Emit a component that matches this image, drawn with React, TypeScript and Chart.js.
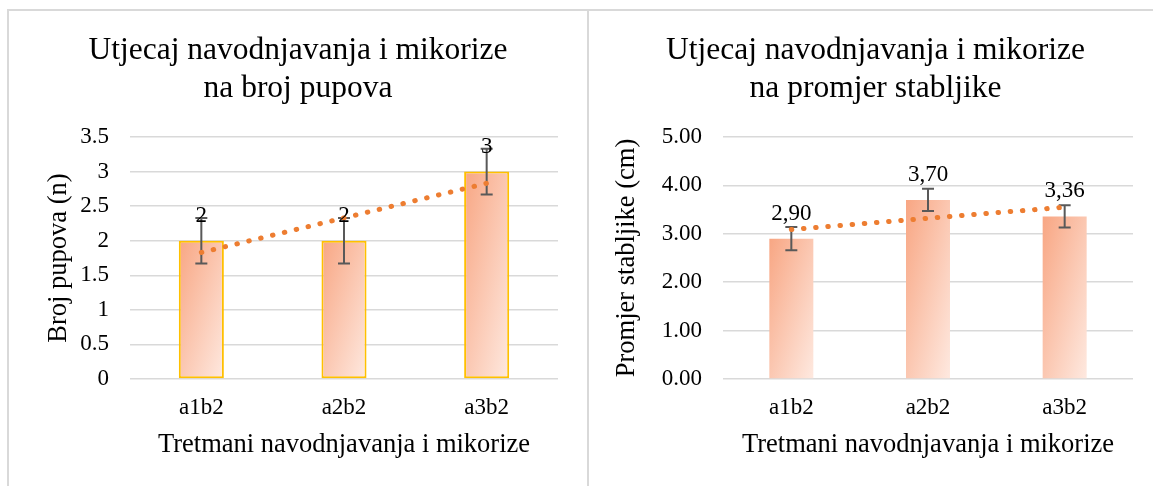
import React, { useEffect, useRef } from "react";
import { Chart, registerables } from "chart.js";

Chart.register(...registerables);

// ---------- data ----------
const categories = ["a1b2", "a2b2", "a3b2"];
const xAxisTitle = "Tretmani navodnjavanja i mikorize";

const budsTitle = ["Utjecaj navodnjavanja i mikorize", "na broj pupova"];
const budsAxisTitle = "Broj pupova (n)";
const budsValues = [2, 2, 3];
const budsErrors = [0.33, 0.33, 0.33];
const budsTrend = [1.83, 2.33, 2.83];
const budsLabels = ["2", "2", "3"];
const budsTicks = ["0", "0.5", "1", "1.5", "2", "2.5", "3", "3.5"];

const stemTitle = ["Utjecaj navodnjavanja i mikorize", "na promjer stabljike"];
const stemAxisTitle = "Promjer stabljike (cm)";
const stemValues = [2.9, 3.7, 3.36];
const stemErrors = [0.24, 0.23, 0.23];
const stemTrend = [3.09, 3.32, 3.55];
const stemLabels = ["2,90", "3,70", "3,36"];
const stemTicks = ["0.00", "1.00", "2.00", "3.00", "4.00", "5.00"];

// ---------- styling ----------
const FONT = "'Liberation Serif', 'Times New Roman', serif";
const GRID = "#d9d9d9";
const TREND = "#ed7d31";
const ERR = "#595959";

function barGradient(barPct: number) {
  return (ctx: any) => {
    const chart = ctx.chart;
    const xs = chart.scales?.x;
    const ys = chart.scales?.y;
    if (!chart.chartArea || ctx.dataIndex === undefined || !xs || !ys) return "#fbc5ad";
    const v = ctx.dataset.data[ctx.dataIndex];
    const cx = xs.getPixelForValue(ctx.dataIndex);
    const w = (xs.width / chart.data.labels.length) * barPct;
    const top = ys.getPixelForValue(v);
    const bottom = ys.getPixelForValue(0);
    const h = Math.max(bottom - top, 1);
    const x0 = cx - w / 2;
    const k = (2 * w * h) / (h * h + w * w);
    const g = chart.ctx.createLinearGradient(x0, top, x0 + h * k, top + w * k);
    g.addColorStop(0, "#f8a683");
    g.addColorStop(1, "#fee9e0");
    return g;
  };
}

const errorBarPlugin = {
  id: "errorBars",
  afterDatasetDraw(chart: any, args: any, opts: any) {
    if (args.index !== 0) return;
    const meta = chart.getDatasetMeta(0);
    const ys = chart.scales.y;
    const c = chart.ctx;
    const values = chart.data.datasets[0].data;
    c.save();
    c.strokeStyle = ERR;
    c.lineWidth = 2;
    meta.data.forEach((bar: any, i: number) => {
      const v = values[i];
      const e = opts.errors[i];
      const x = bar.x;
      const yT = ys.getPixelForValue(v + e);
      const yB = ys.getPixelForValue(v - e);
      c.beginPath();
      c.moveTo(x, yT);
      c.lineTo(x, yB);
      c.moveTo(x - 6, yT);
      c.lineTo(x + 6, yT);
      c.moveTo(x - 6, yB);
      c.lineTo(x + 6, yB);
      c.stroke();
    });
    c.restore();
  },
  afterDatasetsDraw(chart: any, _args: any, opts: any) {
    const meta = chart.getDatasetMeta(0);
    const ys = chart.scales.y;
    const c = chart.ctx;
    const values = chart.data.datasets[0].data;
    c.save();
    c.fillStyle = "#000";
    c.font = `23px ${FONT}`;
    c.textAlign = "center";
    c.textBaseline = "middle";
    meta.data.forEach((bar: any, i: number) => {
      c.fillText(opts.labels[i], bar.x, ys.getPixelForValue(values[i]) - 25);
    });
    c.restore();
  },
};

type Cfg = {
  title: string[];
  yTitle: string;
  values: number[];
  errors: number[];
  trend: number[];
  labels: string[];
  ticks: string[];
  yMax: number;
  yStep: number;
  yAxisWidth: number;
  yTitlePad: number;
  barPct: number;
  barBorder: boolean;
};

function ChartBox({ cfg, left, width }: { cfg: Cfg; left: number; width: number }) {
  const ref = useRef<HTMLCanvasElement | null>(null);
  useEffect(() => {
    if (!ref.current) return;
    const chart = new Chart(ref.current, {
      type: "bar",
      data: {
        labels: categories,
        datasets: [
          {
            type: "bar",
            data: cfg.values,
            order: 2,
            backgroundColor: barGradient(cfg.barPct),
            borderColor: "#ffc000",
            borderWidth: cfg.barBorder ? 2 : 0,
            borderSkipped: false,
            barPercentage: cfg.barPct,
            categoryPercentage: 1,
          } as any,
          {
            type: "line",
            data: cfg.trend,
            order: 1,
            borderColor: TREND,
            borderWidth: 5,
            borderDash: [0.5, 11.7],
            borderCapStyle: "round",
            pointRadius: 0,
            fill: false,
            tension: 0,
          } as any,
        ],
      },
      options: {
        animation: false,
        responsive: true,
        maintainAspectRatio: false,
        layout: { padding: 0 },
        plugins: {
          legend: { display: false },
          tooltip: { enabled: false },
          title: {
            display: true,
            text: cfg.title,
            color: "#000",
            font: { family: FONT, size: 31.5, weight: "normal", lineHeight: 1.2 },
            padding: { top: 22, bottom: 29.4 },
          },
          errorBars: { errors: cfg.errors, labels: cfg.labels },
        } as any,
        scales: {
          x: {
            grid: { display: false, drawTicks: false },
            border: { display: false },
            ticks: { padding: 15, color: "#000", font: { family: FONT, size: 23 } },
            title: {
              display: true,
              text: xAxisTitle,
              color: "#000",
              font: { family: FONT, size: 26.5, lineHeight: 1.2 },
              padding: { top: 0, bottom: 25.5 },
            },
            afterFit: (s: any) => {
              s.height = 107;
            },
          },
          y: {
            min: 0,
            max: cfg.yMax,
            grid: { color: GRID, lineWidth: 1.5, drawTicks: false },
            border: { display: false },
            ticks: {
              stepSize: cfg.yStep,
              padding: 21,
              color: "#000",
              font: { family: FONT, size: 23 },
              callback: (_v: any, i: number) => cfg.ticks[i],
            },
            title: {
              display: true,
              text: cfg.yTitle,
              color: "#000",
              font: { family: FONT, size: 26.5, lineHeight: 1.2 },
              padding: { top: cfg.yTitlePad, bottom: 0 },
            },
            afterFit: (s: any) => {
              s.width = cfg.yAxisWidth;
            },
          },
          yR: {
            position: "right",
            display: true,
            grid: { display: false, drawTicks: false },
            border: { display: false },
            ticks: { display: false },
            afterFit: (s: any) => {
              s.width = 30;
            },
          },
        } as any,
      },
      plugins: [errorBarPlugin as any],
    });
    return () => chart.destroy();
  }, [cfg]);

  return (
    <div style={{ position: "absolute", left, top: 10, width, height: 476 }}>
      <canvas ref={ref} />
    </div>
  );
}

const budsCfg: Cfg = {
  title: budsTitle,
  yTitle: budsAxisTitle,
  values: budsValues,
  errors: budsErrors,
  trend: budsTrend,
  labels: budsLabels,
  ticks: budsTicks,
  yMax: 3.5,
  yStep: 0.5,
  yAxisWidth: 122,
  yTitlePad: 35.6,
  barPct: 0.316,
  barBorder: true,
};

const stemCfg: Cfg = {
  title: stemTitle,
  yTitle: stemAxisTitle,
  values: stemValues,
  errors: stemErrors,
  trend: stemTrend,
  labels: stemLabels,
  ticks: stemTicks,
  yMax: 5,
  yStep: 1,
  yAxisWidth: 135,
  yTitlePad: 23.6,
  barPct: 0.322,
  barBorder: false,
};

export default function App() {
  return (
    <div
      style={{
        position: "absolute",
        left: 0,
        top: 0,
        width: 1153,
        height: 486,
        overflow: "hidden",
        background: "#fff",
      }}
    >
      <ChartBox cfg={budsCfg} left={8} width={580} />
      <ChartBox cfg={stemCfg} left={588} width={575} />
      <div
        style={{
          position: "absolute",
          left: 7,
          top: 9,
          width: 582,
          height: 600,
          border: "2px solid #d9d9d9",
          boxSizing: "border-box",
          pointerEvents: "none",
        }}
      />
      <div
        style={{
          position: "absolute",
          left: 587,
          top: 9,
          width: 600,
          height: 600,
          border: "2px solid #d9d9d9",
          boxSizing: "border-box",
          pointerEvents: "none",
        }}
      />
    </div>
  );
}
